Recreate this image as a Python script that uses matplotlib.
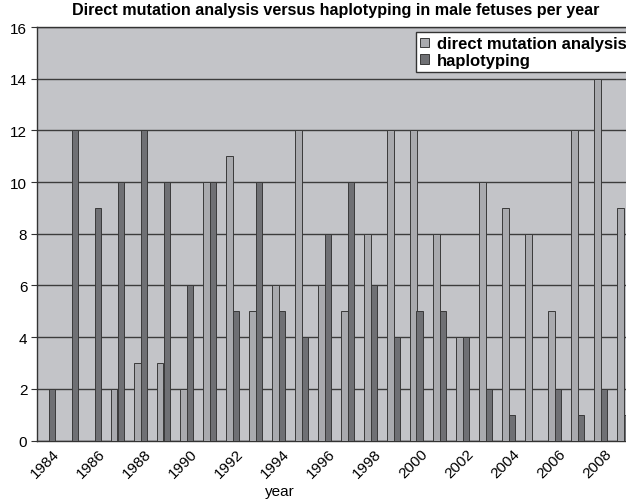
import matplotlib
matplotlib.use("Agg")
import matplotlib.pyplot as plt
import matplotlib.transforms as mtransforms
import numpy as np

years = list(range(1984, 2010))
direct = [0, 0, 0, 2, 3, 3, 2, 10, 11, 5, 6, 12, 6, 5, 8, 12, 12, 8, 4, 10, 9, 8, 5, 12, 14, 9]
haplo = [2, 12, 9, 10, 12, 10, 6, 10, 5, 10, 5, 4, 8, 10, 6, 4, 5, 5, 4, 2, 1, 0, 2, 1, 2, 1]

plt.rcParams['font.family'] = ['Liberation Sans', 'DejaVu Sans']

fig = plt.figure(figsize=(6.26, 5.02), dpi=100)
ax_l, ax_b, ax_w, ax_h = 37, 441.5, 598, 413.5
ax = fig.add_axes([ax_l/626, 1 - ax_b/502, ax_w/626, ax_h/502])
ax.set_facecolor('#c3c4c8')

x = np.arange(len(years))
w = 0.3
ax.bar(x - w/2, direct, w, color='#a9aaae', edgecolor='#3a3a3a', linewidth=0.7,
       label='direct mutation analysis', zorder=3)
ax.bar(x + w/2, haplo, w, color='#6f7074', edgecolor='#3a3a3a', linewidth=0.7,
       label='haplotyping', zorder=3)

ax.set_xlim(-0.5, len(years) - 0.5)
ax.set_ylim(0, 16)
ax.set_yticks(range(0, 17, 2))
ax.yaxis.grid(True, color='#3c3c3c', linewidth=1.0, zorder=1)
ax.set_axisbelow(True)
ax.tick_params(axis='y', labelsize=11, length=4, color='#333333', pad=3)
ax.set_xticks(x[::2])
ax.set_xticklabels([str(y) for y in years[::2]], rotation=45, ha='right',
                   rotation_mode='anchor', fontsize=11)
ax.tick_params(axis='x', length=0, pad=4)
offset = mtransforms.ScaledTranslation(4/100, 0, fig.dpi_scale_trans)
for lab in ax.get_xticklabels():
    lab.set_transform(lab.get_transform() + offset)
ax.spines['right'].set_visible(False)
for s in ['left', 'bottom', 'top']:
    ax.spines[s].set_color('#333333')
    ax.spines[s].set_linewidth(1.0)

fig.text(280/626, 1 - 492/502, 'year', ha='center', va='center', fontsize=11)
fig.text(336/626, 1 - 11/502, 'Direct mutation analysis versus haplotyping in male fetuses per year',
         ha='center', va='center', fontsize=11.6, fontweight='bold')

leg = ax.legend(loc='upper left',
                bbox_to_anchor=((416 - ax_l)/ax_w, (ax_b - 33)/ax_h),
                prop={'weight': 'bold', 'size': 12}, frameon=True, fancybox=False,
                borderpad=0.25, handlelength=0.5, handleheight=0.5, handletextpad=0.5,
                labelspacing=0.1, borderaxespad=0)
leg.get_frame().set_edgecolor('#333333')
leg.get_frame().set_facecolor('white')
leg.get_frame().set_alpha(1)
leg.get_frame().set_linewidth(1.0)

fig.savefig('out.png', dpi=100)
